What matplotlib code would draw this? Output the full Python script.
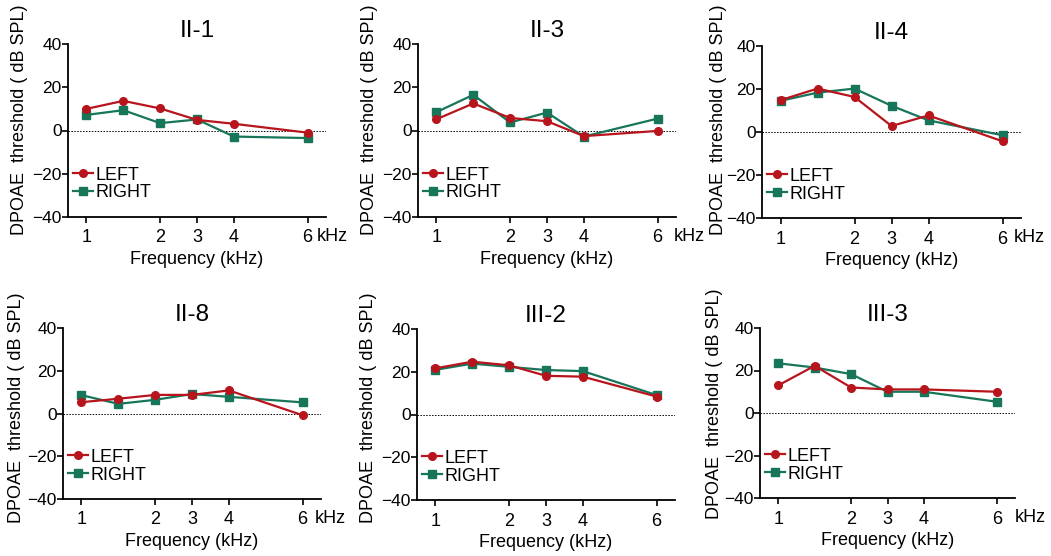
import matplotlib.pyplot as plt

plt.rcParams['font.family'] = ['Liberation Sans', 'DejaVu Sans']

# Frequencies measured (kHz) and their category positions on the x axis
freqs = ['1', '1.5', '2', '3', '4', '6']
xpos = [0, 1, 2, 3, 4, 6]
tick_pos = [0, 2, 3, 4, 6]
tick_labels = ['1', '2', '3', '4', '6']

panels = ['II-1', 'II-3', 'II-4', 'II-8', 'III-2', 'III-3']

left_ii1 = [10.0, 13.7, 10.2, 4.9, 3.1, -1.0]
right_ii1 = [7.2, 9.4, 3.4, 5.1, -2.8, -3.5]
left_ii3 = [5.2, 12.5, 5.8, 4.3, -2.6, -0.2]
right_ii3 = [8.5, 16.5, 3.7, 8.3, -2.8, 5.5]
left_ii4 = [14.8, 20.2, 16.3, 2.8, 7.7, -4.3]
right_ii4 = [14.5, 18.3, 20.2, 12.2, 5.4, -1.5]
left_ii8 = [5.3, 6.9, 8.7, 8.7, 10.8, -0.8]
right_ii8 = [8.6, 4.5, 6.4, 9.1, 7.8, 5.2]
left_iii2 = [21.6, 24.7, 23.0, 18.1, 17.7, 8.4]
right_iii2 = [20.9, 23.8, 22.3, 20.8, 20.3, 9.1]
left_iii3 = [13.0, 22.2, 12.0, 11.1, 11.1, 10.0]
right_iii3 = [23.4, 21.4, 18.3, 10.0, 10.0, 5.3]

left_vals = [left_ii1, left_ii3, left_ii4, left_ii8, left_iii2, left_iii3]
right_vals = [right_ii1, right_ii3, right_ii4, right_ii8, right_iii2, right_iii3]

# axes boxes in pixels: left, top, right, bottom
boxes = [(68, 44, 326, 217), (418, 44, 676, 217), (762, 46, 1021, 218),
         (63, 328, 321, 499), (417, 329, 675, 500), (760, 328, 1015, 498)]
khz_offset = [9, 16, 11, 12, None, 18]
ylab_dx = [-40, -40, -35, -38, -40, -37]
ylab_dy = [11, 11, 12, 6, 7, 9]

W, H = 1051, 556
fig = plt.figure(figsize=(W / 100, H / 100), dpi=100)

red = '#b8141c'
green = '#17765a'
fs = 13

for i, name in enumerate(panels):
    l, t, r, b = boxes[i]
    aw, ah = r - l, b - t
    ax = fig.add_axes([l / W, (H - b) / H, aw / W, ah / H])
    ax.axhline(0, color='black', linestyle=(0, (1.5, 1.5)), linewidth=0.7, zorder=1)
    ax.plot(xpos, left_vals[i], color=red, marker='o', markersize=5.5,
            linewidth=1.6, label='LEFT', zorder=3)
    ax.plot(xpos, right_vals[i], color=green, marker='s', markersize=5.5,
            linewidth=1.6, label='RIGHT', zorder=2)
    ax.set_xlim(-0.5, 6.5)
    ax.set_ylim(-40, 40)
    ax.set_yticks([-40, -20, 0, 20, 40])
    ax.set_xticks(tick_pos)
    ax.set_xticklabels(tick_labels)
    ax.tick_params(axis='y', labelsize=12.5, width=1.2, length=4, direction='out', pad=0.5)
    ax.tick_params(axis='x', labelsize=fs, width=1.2, length=4, direction='out', pad=5)
    for s in ['top', 'right']:
        ax.spines[s].set_visible(False)
    for s in ['left', 'bottom']:
        ax.spines[s].set_linewidth(1.3)
    ax.set_title(name, fontsize=17.5, pad=5)
    ax.set_xlabel('Frequency (kHz)', fontsize=fs, labelpad=3)
    ax.set_ylabel('DPOAE  threshold ( dB SPL)', fontsize=fs)
    ax.yaxis.set_label_coords(ylab_dx[i] / aw, 0.5 + ylab_dy[i] / ah)
    if khz_offset[i] is not None:
        ax.annotate('kHz', xy=(6, 0), xycoords=('data', 'axes fraction'),
                    xytext=(khz_offset[i] * 0.72, -8), textcoords='offset points',
                    ha='left', va='top', fontsize=fs)
    ax.legend(loc='lower left', bbox_to_anchor=(0.02, 0.09), frameon=False,
              fontsize=fs, handlelength=1.1, handletextpad=0.15,
              labelspacing=0.05, borderpad=0, borderaxespad=0)

fig.savefig('out.png', dpi=100)
